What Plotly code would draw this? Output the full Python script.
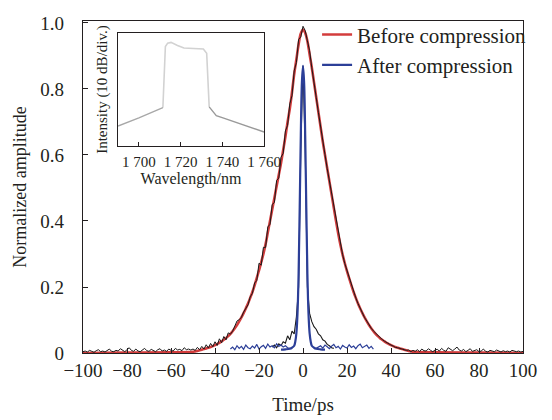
import plotly.graph_objects as go

# ---------------- data ----------------
time_ps = list(range(-100, 101))
before_measured = [
    0.004, 0.006, 0.003, 0.008, 0.005, 0.002, 0.007, 0.010, 0.004, 0.006,
    0.003, 0.009, 0.012, 0.005, 0.004, 0.008, 0.006, 0.013, 0.007, 0.004,
    0.010, 0.016, 0.008, 0.005, 0.012, 0.006, 0.004, 0.009, 0.014, 0.007,
    0.005, 0.011, 0.008, 0.004, 0.010, 0.013, 0.006, 0.009, 0.005, 0.012,
    0.008, 0.006, 0.014, 0.009, 0.011, 0.007, 0.016, 0.010, 0.012, 0.009,
    0.012, 0.008, 0.017, 0.010, 0.020, 0.012, 0.025, 0.015, 0.029, 0.019,
    0.034, 0.023, 0.043, 0.031, 0.050, 0.040, 0.061, 0.057, 0.066, 0.082,
    0.097, 0.101, 0.108, 0.124, 0.135, 0.146, 0.170, 0.181, 0.212, 0.220,
    0.272, 0.266, 0.320, 0.320, 0.382, 0.390, 0.450, 0.456, 0.523, 0.530,
    0.593, 0.605, 0.673, 0.690, 0.755, 0.780, 0.855, 0.880, 0.950, 0.958,
    0.990,
    0.977, 0.946, 0.916, 0.864, 0.825, 0.775, 0.729, 0.681, 0.639, 0.601,
    0.559, 0.521, 0.479, 0.438, 0.401, 0.361, 0.326, 0.298, 0.271, 0.249,
    0.227, 0.207, 0.185, 0.167, 0.150, 0.135, 0.123, 0.107, 0.097, 0.085,
    0.075, 0.067, 0.060, 0.053, 0.047, 0.041, 0.036, 0.032, 0.026, 0.024,
    0.021, 0.017, 0.016, 0.014, 0.012, 0.011, 0.008, 0.009, 0.004, 0.008,
    0.005, 0.010, 0.004, 0.012, 0.007, 0.006, 0.013, 0.008, 0.004, 0.009,
    0.011, 0.006, 0.014, 0.008, 0.005, 0.016, 0.010, 0.007, 0.012, 0.018,
    0.009, 0.006, 0.011, 0.004, 0.008, 0.013, 0.005, 0.007, 0.010, 0.004,
    0.006, 0.012, 0.005, 0.003, 0.008, 0.006, 0.004, 0.009, 0.005, 0.003,
    0.007, 0.004, 0.006, 0.003, 0.008, 0.005, 0.004, 0.006, 0.003, 0.005,
]

before_fit_x = [-100, -80, -60] + list(range(-50, 51)) + [60, 80, 100]
before_fit_y = [0.0, 0.001, 0.002,
    0.004, 0.005, 0.006, 0.008, 0.010, 0.012, 0.014, 0.016, 0.018, 0.021,
    0.024, 0.027, 0.031, 0.035, 0.040, 0.045, 0.051, 0.058, 0.066, 0.075,
    0.085, 0.096, 0.108, 0.121, 0.135, 0.150, 0.167, 0.185, 0.205, 0.228,
    0.250, 0.275, 0.300, 0.330, 0.365, 0.400, 0.435, 0.470, 0.505, 0.540,
    0.575, 0.615, 0.655, 0.700, 0.740, 0.790, 0.845, 0.890, 0.935, 0.968,
    0.980,
    0.970, 0.945, 0.905, 0.865, 0.820, 0.775, 0.730, 0.685, 0.640, 0.600,
    0.560, 0.520, 0.480, 0.440, 0.400, 0.362, 0.328, 0.298, 0.272, 0.248,
    0.226, 0.205, 0.185, 0.167, 0.150, 0.135, 0.121, 0.108, 0.096, 0.085,
    0.075, 0.066, 0.058, 0.051, 0.045, 0.040, 0.035, 0.031, 0.027, 0.024,
    0.021, 0.018, 0.016, 0.014, 0.012, 0.010, 0.008, 0.006, 0.005, 0.004,
    0.002, 0.001, 0.0]

after_measured_x = list(range(-14, 15))
after_measured_y = [0.018, 0.024, 0.016, 0.028, 0.022, 0.034, 0.030, 0.052, 0.040,
                    0.066, 0.058, 0.110, 0.200, 0.620, 0.870, 0.620, 0.200, 0.120,
                    0.095, 0.080, 0.072, 0.058, 0.052, 0.040, 0.036, 0.026, 0.022,
                    0.016, 0.014]

after_base_left_x = list(range(-33, -5))
after_base_left_y = [0.012, 0.018, 0.010, 0.022, 0.014, 0.020, 0.011, 0.024, 0.016,
                     0.013, 0.021, 0.015, 0.026, 0.012, 0.019, 0.023, 0.014, 0.027,
                     0.018, 0.022, 0.016, 0.028, 0.020, 0.025, 0.018, 0.022, 0.016,
                     0.014]
after_base_right_x = list(range(6, 33))
after_base_right_y = [0.014, 0.018, 0.022, 0.015, 0.024, 0.019, 0.013, 0.021, 0.026,
                      0.016, 0.020, 0.012, 0.023, 0.018, 0.015, 0.025, 0.017, 0.021,
                      0.013, 0.022, 0.027, 0.016, 0.019, 0.024, 0.014, 0.020, 0.012]

after_fit_x = [-10, -8, -6, -5, -4, -3.5, -3, -2.5, -2, -1.5, -1, -0.5, 0,
               0.5, 1, 1.5, 2, 2.5, 3, 3.5, 4, 5, 6, 8, 10]
after_fit_y = [0.010, 0.011, 0.013, 0.016, 0.022, 0.035, 0.060, 0.120, 0.240, 0.440,
               0.660, 0.820, 0.870, 0.820, 0.660, 0.440, 0.240, 0.120, 0.060, 0.035,
               0.022, 0.016, 0.013, 0.011, 0.010]

# inset spectrum (normalised display units, 10 dB/div)
spec_left_x = [1690, 1700, 1711.5]
spec_left_y = [0.178, 0.25, 0.34]
spec_top_x = [1711.5, 1712.7, 1713.8, 1715.4, 1718.5, 1721.6, 1730.9, 1732.5, 1733.7]
spec_top_y = [0.34, 0.88, 0.91, 0.917, 0.89, 0.867, 0.858, 0.82, 0.347]
spec_right_x = [1733.7, 1737.1, 1740.3, 1749.6, 1760]
spec_right_y = [0.347, 0.27, 0.25, 0.19, 0.125]

x_ticks = list(range(-100, 101, 20))
y_ticks = [0, 0.2, 0.4, 0.6, 0.8, 1.0]
y_ticktext = ["0", "0.2", "0.4", "0.6", "0.8", "1.0"]
inset_ticks = [1700, 1720, 1740, 1760]
inset_ticktext = ["1 700", "1 720", "1 740", "1 760"]

RED = "#d33c3c"
BLUE = "#2c3f98"
BLACK = "#1a1a1a"
INK = "#231f20"
FONT = "Liberation Serif, Times New Roman, serif"


def f(size):
    return dict(family=FONT, size=size, color=INK)


fig = go.Figure()

fig.add_trace(go.Scatter(x=before_fit_x, y=before_fit_y, mode="lines",
                         line=dict(color=RED, width=2.6, shape="spline"),
                         name="Before compression"))
fig.add_trace(go.Scatter(x=time_ps, y=before_measured, mode="lines",
                         line=dict(color=BLACK, width=1.0), showlegend=False))
fig.add_trace(go.Scatter(x=after_measured_x, y=after_measured_y, mode="lines",
                         line=dict(color=BLACK, width=1.1), showlegend=False))
fig.add_trace(go.Scatter(x=after_base_left_x, y=after_base_left_y, mode="lines",
                         line=dict(color=BLUE, width=1.2), showlegend=False))
fig.add_trace(go.Scatter(x=after_base_right_x, y=after_base_right_y, mode="lines",
                         line=dict(color=BLUE, width=1.2), showlegend=False))
fig.add_trace(go.Scatter(x=after_fit_x, y=after_fit_y, mode="lines",
                         line=dict(color=BLUE, width=2.2, shape="spline"),
                         name="After compression"))

# inset
fig.add_trace(go.Scatter(x=spec_top_x, y=spec_top_y, mode="lines",
                         line=dict(color="#d2d2d2", width=1.6),
                         xaxis="x2", yaxis="y2", showlegend=False))
fig.add_trace(go.Scatter(x=spec_left_x, y=spec_left_y, mode="lines",
                         line=dict(color="#a8a8a8", width=1.4),
                         xaxis="x2", yaxis="y2", showlegend=False))
fig.add_trace(go.Scatter(x=spec_right_x, y=spec_right_y, mode="lines",
                         line=dict(color="#9a9a9a", width=1.4),
                         xaxis="x2", yaxis="y2", showlegend=False))

fig.update_layout(
    width=552, height=420,
    margin=dict(l=83, r=17, t=21, b=67),
    paper_bgcolor="white", plot_bgcolor="white",
    font=f(19),
    showlegend=True,
    legend=dict(x=0.532, y=1.02, xanchor="left", yanchor="top",
                bgcolor="rgba(0,0,0,0)", font=f(21),
                tracegroupgap=0, itemwidth=30),
    xaxis=dict(range=[-100, 100], tickvals=x_ticks, ticks="inside", ticklen=5,
               tickcolor=INK, showline=True, mirror=True, linecolor=INK,
               linewidth=1.2, showgrid=False, zeroline=False, automargin=False,
               tickfont=f(19), ticklabelstandoff=0,
               title=dict(text="Time/ps", font=f(19), standoff=17)),
    yaxis=dict(range=[0, 1.006], tickvals=y_ticks, ticktext=y_ticktext,
               ticks="inside", ticklen=5, tickcolor=INK, showline=True,
               mirror=True, linecolor=INK, linewidth=1.2, showgrid=False,
               zeroline=False, automargin=False, tickfont=f(19),
               ticklabelstandoff=14,
               title=dict(text="Normalized amplitude", font=f(18),
                          standoff=9)),
    xaxis2=dict(domain=[0.0796, 0.4115], anchor="y2", range=[1690, 1760],
                tickvals=inset_ticks, ticktext=inset_ticktext, ticks="inside",
                ticklen=4, tickcolor=INK, showline=True, mirror=True,
                linecolor=INK, linewidth=1, showgrid=False, zeroline=False,
                tickfont=f(15), ticklabelstandoff=2,
                title=dict(text="Wavelength/nm", font=f(16), standoff=3)),
    yaxis2=dict(domain=[0.623, 0.964], anchor="x2", range=[0, 1],
                showticklabels=False, ticks="", showline=True, mirror=True,
                linecolor=INK, linewidth=1, showgrid=False, zeroline=False,
                title=dict(text="Intensity (10 dB/div.)", font=f(15),
                           standoff=5)),
)

fig.write_html("out.html")
